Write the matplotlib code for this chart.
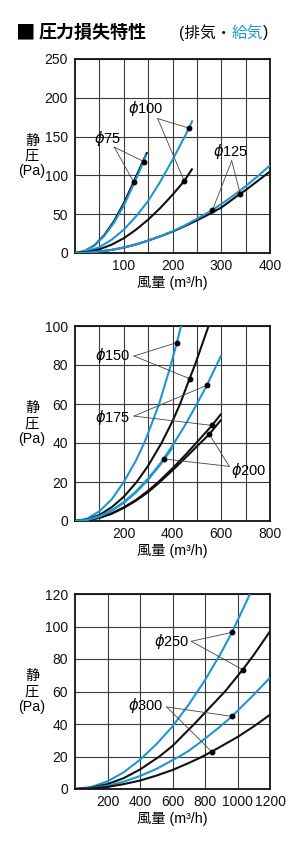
import matplotlib
matplotlib.use('Agg')
import matplotlib.pyplot as plt

plt.rcParams['font.family'] = ['Liberation Sans', 'Noto Sans CJK JP', 'DejaVu Sans']
plt.rcParams['mathtext.fontset'] = 'dejavusans'

BLUE = '#1d97d4'
BLACK = '#111111'

# --- chart 1: phi75 / phi100 / phi125 (x: m3/h, y: Pa) ---
p75k_x = [0, 20, 40, 60, 80, 100, 120, 140, 148]
p75k_y = [0, 2.5, 10, 23, 41, 64, 91, 119, 130]
p75b_x = [0, 20, 40, 60, 80, 100, 120, 141, 146]
p75b_y = [0, 2.3, 9.5, 22, 39, 61, 88, 117.9, 127]
p100b_x = [0, 25, 50, 75, 100, 125, 150, 175, 200, 225, 234, 241]
p100b_y = [0, 2, 7.5, 17, 30, 47, 67, 92, 120, 150, 161, 171]
p100k_x = [0, 25, 50, 75, 100, 125, 150, 175, 200, 224, 241]
p100k_y = [0, 1.2, 4.7, 10.7, 19, 30, 43, 58, 75, 92.7, 109]
p125b_x = [0, 25, 50, 75, 100, 125, 150, 175, 200, 225, 250, 282, 300, 325, 350, 375, 400]
p125b_y = [0, 0.4, 1.8, 4, 7.1, 11, 16, 21.7, 28, 35.5, 44, 55.4, 63, 74, 86, 99, 113]
p125k_x = [0, 25, 50, 75, 100, 125, 150, 175, 200, 225, 250, 275, 300, 339, 350, 375, 400]
p125k_y = [0, 0.4, 1.8, 4, 7, 11, 16, 21.5, 27.5, 34.5, 42, 50, 58.5, 76.4, 81, 93, 105]

# --- chart 2: phi150 / phi175 / phi200 ---
p150b_x = [0, 50, 100, 150, 200, 250, 284, 300, 345, 393, 418, 437]
p150b_y = [0, 1.2, 5, 11, 20, 31, 40, 45, 60, 80, 91.5, 101]
p150k_x = [0, 50, 100, 150, 200, 253, 300, 355, 400, 431, 470, 492, 548]
p150k_y = [0, 0.8, 3.1, 7, 12.4, 20, 28.3, 40, 51.2, 60, 73, 80, 100]
p175b_x = [0, 50, 100, 150, 200, 250, 300, 350, 400, 450, 500, 541, 600]
p175b_y = [0, 0.6, 2.4, 5.4, 9.7, 15.1, 21.8, 29.5, 38.7, 48.8, 60, 69.6, 85]
p200b_x = [0, 50, 100, 150, 200, 250, 300, 350, 367, 400]
p200b_y = [0, 0.6, 2.3, 5.2, 9.3, 14.6, 21.2, 28.9, 31.8, 37.6]
p175k_x = [0, 50, 100, 150, 200, 250, 300, 342, 400, 450, 490, 562, 600]
p175k_y = [0, 0.4, 1.7, 3.9, 7, 10.8, 15.5, 20, 27, 33.5, 39, 49, 55]
p200k_x = [0, 50, 100, 150, 200, 250, 300, 342, 400, 450, 490, 551, 600]
p200k_y = [0, 0.4, 1.6, 3.7, 6.7, 10.4, 14.8, 19.3, 26, 32, 37, 44.5, 52]

# --- chart 3: phi250 / phi300 ---
p250b_x = [0, 100, 200, 300, 400, 500, 600, 700, 800, 900, 966, 1077]
p250b_y = [0, 1.2, 4.7, 10.3, 18, 27.5, 38.5, 52, 67, 84, 96.4, 120]
p250k_x = [0, 100, 200, 300, 400, 519, 600, 734, 800, 923, 1032, 1100, 1200]
p250k_y = [0, 0.8, 3, 6.7, 12, 20, 26.5, 40, 47, 60, 73.4, 82.5, 97]
p300b_x = [0, 100, 200, 300, 400, 500, 642, 700, 800, 882, 966, 1100, 1200]
p300b_y = [0, 0.5, 2, 4.5, 8, 12.3, 20, 23.5, 31, 37.5, 44.7, 58, 68.5]
p300k_x = [0, 100, 200, 300, 400, 500, 600, 700, 775, 841, 900, 1000, 1100, 1200]
p300k_y = [0, 0.3, 1.3, 3, 5.2, 8.2, 11.7, 16, 19.5, 23, 26.3, 32, 38.5, 45.7]

# callouts: label, label position, line start, marked points on the curves
callouts1 = [
    ('75', (66, 147), (80.6, 136.4), [(120.3, 91.5), (140.9, 117.9)]),
    ('100', (145, 186.6), (169.6, 173.2), [(233.8, 161), (224, 92.7)]),
    ('125', (320, 130.8), (321.4, 118.8), [(282, 55.4), (339, 76.4)]),
]
callouts2 = [
    ('150', (153, 85.1), (242, 84.6), [(418, 91.5), (470, 73)]),
    ('175', (153, 53.3), (242, 53.8), [(541, 69.6), (562, 49)]),
    ('200', (711, 25.8), (633, 28), [(551, 44.5), (367, 31.8)]),
]
callouts3 = [
    ('250', (594, 90.9), (716, 90.9), [(966, 96.4), (1032, 73.4)]),
    ('300', (437, 51.5), (564, 50.5), [(966, 44.7), (841, 23)]),
]

charts = [
    dict(rect=[75, 59, 195, 194], xmax=400, ymax=250,
         xmajor=[100, 200, 300, 400], xminor=[50, 150, 250, 350],
         yticks=[0, 50, 100, 150, 200, 250],
         curves=[(p75k_x, p75k_y, BLACK), (p75b_x, p75b_y, BLUE),
                 (p100b_x, p100b_y, BLUE), (p100k_x, p100k_y, BLACK),
                 (p125k_x, p125k_y, BLACK), (p125b_x, p125b_y, BLUE)],
         callouts=callouts1),
    dict(rect=[75, 326, 195, 195], xmax=800, ymax=100,
         xmajor=[200, 400, 600, 800], xminor=[100, 300, 500, 700],
         yticks=[0, 20, 40, 60, 80, 100],
         curves=[(p150b_x, p150b_y, BLUE), (p150k_x, p150k_y, BLACK),
                 (p175k_x, p175k_y, BLACK), (p200k_x, p200k_y, BLACK),
                 (p200b_x, p200b_y, BLUE), (p175b_x, p175b_y, BLUE)],
         callouts=callouts2),
    dict(rect=[75, 594, 195, 195], xmax=1200, ymax=120,
         xmajor=[200, 400, 600, 800, 1000, 1200], xminor=[],
         yticks=[0, 20, 40, 60, 80, 100, 120],
         curves=[(p250b_x, p250b_y, BLUE), (p250k_x, p250k_y, BLACK),
                 (p300b_x, p300b_y, BLUE), (p300k_x, p300k_y, BLACK)],
         callouts=callouts3),
]

W, H = 300, 850
fig = plt.figure(figsize=(3, 8.5), dpi=100)

for ch in charts:
    x0, y0, w, h = ch['rect']
    ax = fig.add_axes([x0 / W, 1 - (y0 + h) / H, w / W, h / H])
    ax.set_xlim(0, ch['xmax'])
    ax.set_ylim(0, ch['ymax'])
    ax.set_xticks(ch['xmajor'])
    ax.set_xticks(ch['xminor'], minor=True)
    ax.set_yticks(ch['yticks'])
    ax.tick_params(which='both', length=0, labelsize=10, colors='#111111')
    ax.tick_params(axis='x', pad=4)
    ax.tick_params(axis='y', pad=5)
    ax.grid(True, which='both', color='#3a3a3a', lw=0.8)
    ax.set_axisbelow(True)
    for s in ax.spines.values():
        s.set_linewidth(1.3)
        s.set_color('#111111')

    for xs, ys, c in ch['curves']:
        ax.plot(xs, ys, color=c, lw=1.5, solid_capstyle='butt', zorder=3)

    for label, lpos, start, pts in ch['callouts']:
        for px, py in pts:
            ax.plot([start[0], px], [start[1], py], color='#444444', lw=0.6, zorder=4)
            ax.plot(px, py, 'o', color='black', ms=3.2, zorder=5)
        ax.text(lpos[0], lpos[1], r'$\phi$' + label, fontsize=10.5, ha='center',
                va='center', zorder=6)

    ax.text(-43 / w, 0.5, '静\n圧\n(Pa)', transform=ax.transAxes, fontsize=10.3,
            ha='center', va='center', linespacing=1.1)
    ax.text(0.5, -30 / h, '風量 (m³/h)', transform=ax.transAxes, fontsize=10.3,
            ha='center', va='center')

# title
fig.text(25 / W, 1 - 33 / H, '■', fontsize=14, family='Noto Sans CJK JP',
         ha='center', va='center')
fig.text(39 / W, 1 - 33 / H, '圧力損失特性', fontsize=13, fontweight='bold',
         ha='left', va='center')
fig.canvas.draw()
r = fig.canvas.get_renderer()
t1 = fig.text(179 / W, 1 - 33 / H, '(排気・', fontsize=11.3, ha='left', va='center')
bb = t1.get_window_extent(r)
t2 = fig.text(bb.x1 / W, 1 - 33 / H, '給気', fontsize=11.3, ha='left', va='center',
              color=BLUE)
bb2 = t2.get_window_extent(r)
fig.text(bb2.x1 / W, 1 - 33 / H, ')', fontsize=11.3, ha='left', va='center')

fig.savefig('out.png', dpi=100)
